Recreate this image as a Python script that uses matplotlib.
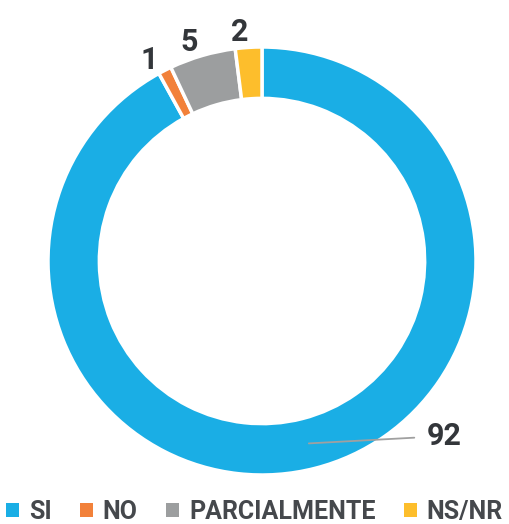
import numpy as np
import matplotlib
matplotlib.use("Agg")
import matplotlib.pyplot as plt

categories = ["SI", "NO", "PARCIALMENTE", "NS/NR"]
values = [92, 1, 5, 2]
colors = ["#1AAEE5", "#F2813A", "#9C9E9F", "#FDBE2C"]

plt.rcParams['font.family'] = ['Roboto', 'DejaVu Sans']
txt_color = "#33363A"

fig = plt.figure(figsize=(5.09, 5.24), dpi=100)
ax = fig.add_axes([48/509, 49/524, 428/509, 428/524])
wedges, _ = ax.pie(values, colors=colors, startangle=90, counterclock=False,
                   radius=1.0, wedgeprops=dict(width=0.24, edgecolor="white", linewidth=2.5))
ax.set_xlim(-1, 1)
ax.set_ylim(-1, 1)
ax.set_aspect("equal")
ax.axis("off")

for w, v in zip(wedges, values):
    mid_deg = (w.theta1 + w.theta2) / 2
    if v > 50:
        mid = np.deg2rad(mid_deg)
        r0 = 0.88
        x0, y0 = r0*np.cos(mid), r0*np.sin(mid)
        ax.annotate(str(v), xy=(x0, y0), xytext=(0.77, -0.818), fontsize=22, fontweight="bold",
                    color=txt_color, ha="left", va="center",
                    arrowprops=dict(arrowstyle="-", color="#A0A0A0", lw=1.3, shrinkA=7, shrinkB=0))
    else:
        a = np.deg2rad(mid_deg + 2.0)
        r = 1.09
        ax.text(r*np.cos(a), r*np.sin(a), str(v), fontsize=22, fontweight="bold",
                color=txt_color, ha="center", va="center_baseline")

leg = fig.legend(wedges, categories, loc="lower center", ncol=4, frameon=False,
                 bbox_to_anchor=(0.5, -0.042), fontsize=18, handlelength=0.5, handleheight=0.5,
                 handletextpad=0.4, columnspacing=1.15)
for t in leg.get_texts():
    t.set_fontweight("bold")
    t.set_color("#45484C")
for h in leg.legend_handles:
    h.set_edgecolor("none")

fig.savefig("out.png", dpi=100)
